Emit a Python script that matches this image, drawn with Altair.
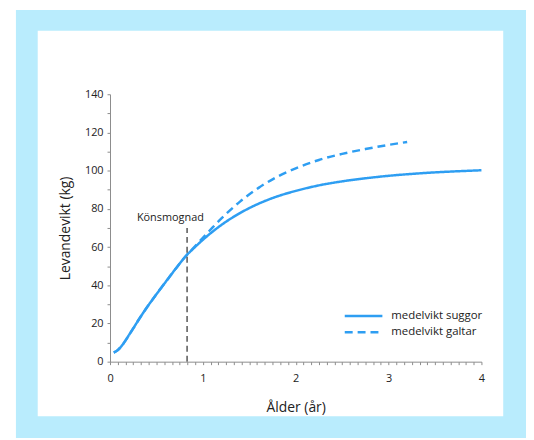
import altair as alt
import pandas as pd

# --- data ---
age_suggor = [0.04, 0.08, 0.12, 0.16, 0.2, 0.25, 0.3, 0.4, 0.5, 0.6, 0.7, 0.83, 0.9, 1.0, 1.1,
              1.2, 1.4, 1.6, 1.8, 2.0, 2.25, 2.5, 2.75, 3.0, 3.25, 3.5, 3.75, 4.0]
vikt_suggor = [4.8, 5.9, 7.9, 10.6, 13.6, 17.4, 21.3, 28.6, 35.3, 41.8, 48.2, 56.0, 59.3, 63.8, 67.9,
               71.6, 77.8, 82.7, 86.5, 89.4, 92.3, 94.4, 96.0, 97.3, 98.3, 99.1, 99.7, 100.2]
age_galtar = [0.04, 0.08, 0.12, 0.16, 0.2, 0.25, 0.3, 0.4, 0.5, 0.6, 0.7, 0.83, 0.9, 1.0, 1.1,
              1.2, 1.4, 1.6, 1.8, 2.0, 2.25, 2.5, 2.75, 3.0, 3.2]
vikt_galtar = [4.8, 5.9, 7.9, 10.6, 13.6, 17.4, 21.3, 28.6, 35.3, 41.8, 48.2, 56.0, 59.6, 64.8, 70.0,
               75.0, 83.8, 91.0, 96.8, 101.2, 105.6, 108.8, 111.3, 113.5, 115.0]
series_names = ["medelvikt suggor", "medelvikt galtar"]

maturity_age = [0.83]
maturity_top = [70]
maturity_label = ["Könsmognad"]
label_x = [0.65]
label_y = [75]

x_tick_values = [i / 12 for i in range(49)]
y_tick_values = list(range(0, 141, 10))

BLUE = "#2e9ef2"
FONT = "Open Sans"

df = pd.concat([
    pd.DataFrame({"ålder": age_suggor, "vikt": vikt_suggor, "serie": series_names[0]}),
    pd.DataFrame({"ålder": age_galtar, "vikt": vikt_galtar, "serie": series_names[1]}),
])
df_mat = pd.DataFrame({"x": maturity_age, "y0": [0], "y1": maturity_top})
df_lab = pd.DataFrame({"x": label_x, "y": label_y, "t": maturity_label})
one = pd.DataFrame({"a": [0]})

xscale = alt.Scale(domain=[0, 4], nice=False)
yscale = alt.Scale(domain=[0, 140], nice=False)

x_axis = alt.Axis(values=x_tick_values, tickCount=len(x_tick_values),
                  labelExpr="abs(datum.value - round(datum.value)) < 1e-6 ? format(datum.value, 'd') : ''",
                  labelOverlap=False, labelFlush=False, grid=False, zindex=1,
                  tickSize=3, tickColor="#8c8c8c", domainColor="#8c8c8c",
                  labelColor="#222222", labelFontSize=11, labelFont=FONT, labelPadding=8,
                  title="Ålder (år)", titleFont=FONT, titleFontSize=14,
                  titleFontWeight="normal", titleColor="#222222", titlePadding=17)
y_axis = alt.Axis(values=y_tick_values, tickCount=len(y_tick_values),
                  labelExpr="datum.value % 20 == 0 ? format(datum.value, 'd') : ''",
                  labelOverlap=False, labelFlush=False, grid=False, zindex=1,
                  tickSize=3, tickColor="#8c8c8c", domainColor="#8c8c8c",
                  labelColor="#222222", labelFontSize=11, labelFont=FONT, labelPadding=4,
                  title="Levandevikt (kg)", titleFont=FONT, titleFontSize=14,
                  titleFontWeight="normal", titleColor="#222222", titlePadding=12)

frame = alt.Chart(one).mark_rect(color="#b9ecfd").encode(
    x=alt.value(-95), x2=alt.value(420), y=alt.value(-85), y2=alt.value(347))
panel = alt.Chart(one).mark_rect(color="#ffffff").encode(
    x=alt.value(-73), x2=alt.value(397), y=alt.value(-64), y2=alt.value(325))

lines = alt.Chart(df).mark_line(strokeWidth=2.5, color=BLUE, interpolate="monotone").encode(
    x=alt.X("ålder:Q", scale=xscale, axis=x_axis),
    y=alt.Y("vikt:Q", scale=yscale, axis=y_axis),
    strokeDash=alt.StrokeDash("serie:N",
                              scale=alt.Scale(domain=series_names, range=[[1, 0], [8, 5]]),
                              legend=None),
)

rule = alt.Chart(df_mat).mark_rule(color="#555555", strokeWidth=1.5, strokeDash=[6, 4]).encode(
    x=alt.X("x:Q", scale=xscale, axis=x_axis),
    y=alt.Y("y0:Q", scale=yscale, axis=y_axis), y2="y1:Q")

text = alt.Chart(df_lab).mark_text(font=FONT, fontSize=11, color="#222222",
                                   align="center", baseline="middle").encode(
    x=alt.X("x:Q", scale=xscale, axis=x_axis),
    y=alt.Y("y:Q", scale=yscale, axis=y_axis), text="t:N")

# hand-made legend (key lines + labels)
leg_layers = []
for i, (name, dash) in enumerate(zip(series_names, [[1, 0], [8, 5]])):
    row = pd.DataFrame({"serie": [name]})
    ypix = 224 + i * 16.3
    leg_layers.append(alt.Chart(row).mark_rule(color=BLUE, strokeWidth=2.5, strokeDash=dash).encode(
        x=alt.value(237), x2=alt.value(275), y=alt.value(ypix)))
    leg_layers.append(alt.Chart(row).mark_text(font=FONT, fontSize=11.5, color="#222222",
                                               align="left", baseline="middle").encode(
        x=alt.value(284), y=alt.value(ypix), text="serie:N"))

chart = alt.layer(frame, panel, lines, rule, text, *leg_layers).properties(
    width=375, height=270,
    autosize=alt.AutoSizeParams(type="none"),
    padding={"left": 103, "top": 85, "right": 45, "bottom": 77},
    background="white",
).configure_view(strokeWidth=0)

chart.save("out.html", embed_options={"renderer": "svg", "actions": False})
